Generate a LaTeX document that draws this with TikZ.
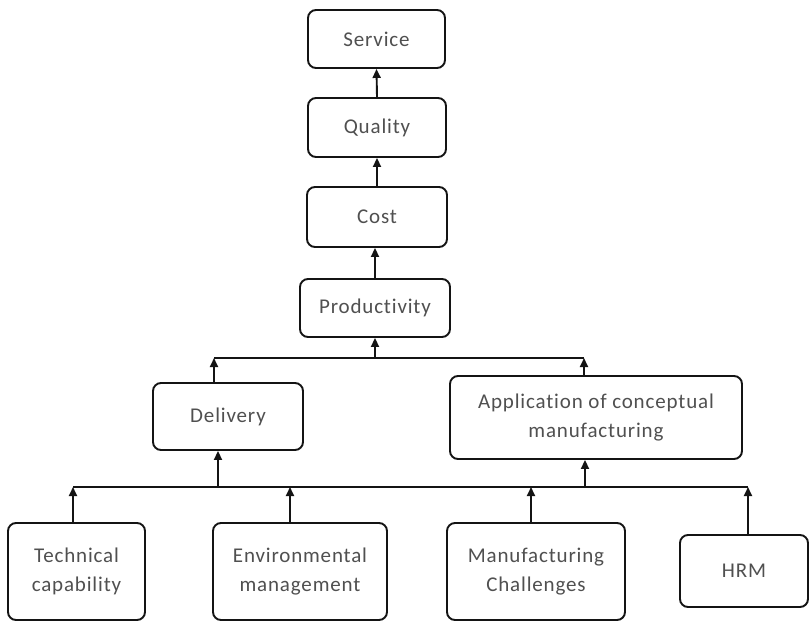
\documentclass[tikz,border=0pt]{standalone}
\usepackage{fontspec}
\setmainfont{Carlito}[LetterSpace=4,Ligatures=NoCommon]
\usepackage{tikz}
\usetikzlibrary{arrows.meta}
\definecolor{ink}{RGB}{20, 20, 20}
\definecolor{txt}{RGB}{80, 80, 80}
\tikzset{
  blk/.style={draw=ink,line width=1.9pt,rounded corners=8pt,fill=white,
    text=txt,align=center,inner sep=0pt,font=\fontsize{21}{29}\selectfont},
  arr/.style={draw=ink,line width=1.9pt,-{Triangle[length=9pt,width=8pt]}},
  bus/.style={draw=ink,line width=1.9pt}
}
% \blk{x}{y}{name}{width}{height}{text}
\newcommand{\blk}[6]{\node[blk,minimum width=#4pt,minimum height=#5pt] (#3) at (#1,#2) {#6};}

\begin{document}
\begin{tikzpicture}[x=1pt,y=-1pt]
\useasboundingbox (0,0) rectangle (809,621);

\blk{376.5}{39}{Service}{137}{58}{Service}
\blk{377}{127.5}{Quality}{138}{59}{Quality}
\blk{377}{217}{Cost}{140}{60}{Cost}
\blk{375}{308}{Productivity}{150}{58}{Productivity}
\blk{228}{416.5}{Delivery}{150}{67}{Delivery}
\blk{596}{417.5}{Application}{292}{83}{Application of conceptual\\manufacturing}
\blk{76.5}{571.5}{Technical}{137}{97}{Technical\\capability}
\blk{300}{571.5}{Environmental}{174}{97}{Environmental\\management}
\blk{536}{571.5}{Manufacturing}{178}{97}{Manufacturing\\Challenges}
\blk{744}{571}{HRM}{128}{72}{HRM}

% upper chain
\draw[arr] (Quality.north) -- (Service.south);
\draw[arr] (Cost.north) -- (Quality.south -| Cost.north);
\draw[arr] (Productivity.north) -- (Cost.south -| Productivity.north);

% first bus
\coordinate (d1) at (214,358);
\coordinate (a1) at (584,358);
\draw[bus] (d1) -- (a1);
\draw[arr] (Delivery.north -| d1) -- (d1);
\draw[arr] (Application.north -| a1) -- (a1);
\draw[arr] (Productivity.south |- d1) -- (Productivity.south);

% second bus
\coordinate (t2) at (73,487);
\coordinate (e2) at (290,487);
\coordinate (m2) at (531,487);
\coordinate (h2) at (748,487);
\coordinate (d2) at (218,487);
\coordinate (a2) at (585,487);
\draw[bus] (t2) -- (h2);
\draw[arr] (Technical.north -| t2) -- (t2);
\draw[arr] (Environmental.north -| e2) -- (e2);
\draw[arr] (Manufacturing.north -| m2) -- (m2);
\draw[arr] (HRM.north -| h2) -- (h2);
\draw[arr] (d2) -- (Delivery.south -| d2);
\draw[arr] (a2) -- (Application.south -| a2);
\end{tikzpicture}
\end{document}
